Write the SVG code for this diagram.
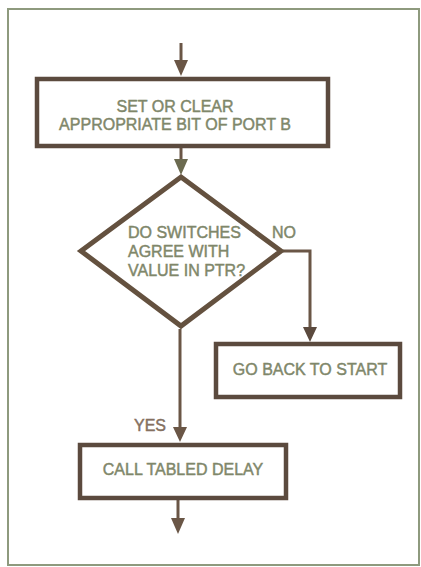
<svg xmlns="http://www.w3.org/2000/svg" width="421" height="567" viewBox="0 0 421 567">
<style>
.bg{fill:#ffffff}
.frame{fill:none;stroke:#8e9a7e;stroke-width:2}
.box{fill:#ffffff;stroke:#5b4a3e;stroke-width:4.5}
.dia{fill:#ffffff;stroke:#64513f;stroke-width:5;stroke-linejoin:miter}
.t{font-family:"Liberation Sans",Arial,sans-serif;font-size:16px;fill:#7f876a;stroke:#7f876a;stroke-width:0.45}
.ty{font-family:"Liberation Sans",Arial,sans-serif;font-size:16px;fill:#85705f;stroke:#85705f;stroke-width:0.45}
.c{fill:none;stroke:#6a5646;stroke-width:3}
.ah{fill:#6a5646}
</style>
<rect class="bg" x="0" y="0" width="421" height="567"/>
<rect class="frame" x="8" y="9" width="411" height="556"/>
<g id="connectors">
<line class="c" x1="181" y1="43" x2="181" y2="63"/>
<polygon class="ah" points="174,60 188,60 181,76"/>
<line class="c" x1="181" y1="148" x2="181" y2="163"/>
<polygon points="174,159 188,159 181,175" fill="#6b6a50"/>
<polyline class="c" points="283,251 310,251 310,330"/>
<polygon points="303,327 317,327 310,342" fill="#5b4a3e"/>
<line class="c" x1="180" y1="329" x2="180" y2="430"/>
<polygon class="ah" points="173,427 187,427 180,442"/>
<line class="c" x1="178" y1="499" x2="178" y2="522"/>
<polygon class="ah" points="171,518 185,518 178,534"/>
</g>
<g id="set-clear">
<rect class="box" x="37" y="79" width="291" height="67"/>
<text class="t" x="175" y="112" text-anchor="middle">SET OR CLEAR</text>
<text class="t" x="175" y="130" text-anchor="middle">APPROPRIATE BIT OF PORT B</text>
</g>
<g id="decision">
<polygon class="dia" points="181,177 281,251 181,326 81,251"/>
<text class="t" x="128" y="238">DO SWITCHES</text>
<text class="t" x="128" y="257">AGREE WITH</text>
<text class="t" x="128" y="276">VALUE IN PTR?</text>
</g>
<g id="labels">
<text class="t" x="272" y="238">NO</text>
<text class="ty" x="134" y="431">YES</text>
</g>
<g id="go-back">
<rect class="box" x="216" y="344" width="184" height="53"/>
<text class="t" x="310" y="375" text-anchor="middle">GO BACK TO START</text>
</g>
<g id="call-delay">
<rect class="box" x="80" y="445" width="206" height="53"/>
<text class="t" x="183" y="475" text-anchor="middle">CALL TABLED DELAY</text>
</g>
</svg>
